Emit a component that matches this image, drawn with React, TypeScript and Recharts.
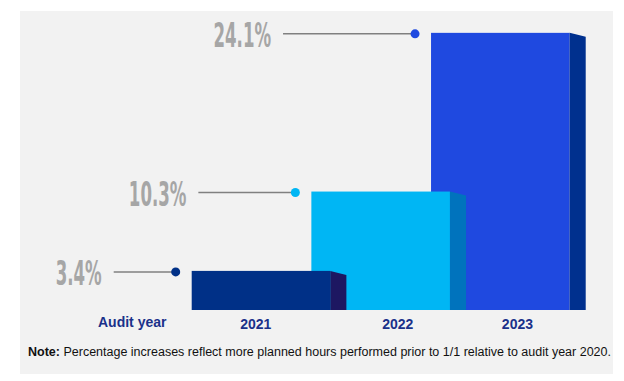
import { BarChart, Bar, XAxis, YAxis } from 'recharts';

const years = ['2021', '2022', '2023'];
const increases = [3.4, 10.3, 24.1];
const frontColors = ['#003087', '#00b6f4', '#1f49e0'];
const sideColors = ['#1d1761', '#0073bd', '#00308e'];

// drawn right-to-left so each bar's side face sits on top of its right neighbour
const data = years
  .map((year, i) => ({ year, value: increases[i], idx: i }))
  .reverse();

const FRONT = 1.155; // front face width relative to the band
const SIDE = 0.134; // side face width relative to the band

function Block(props: any) {
  const { x, y, width, height, payload } = props;
  const i = payload.idx;
  const fw = width * FRONT;
  const sw = width * SIDE;
  const x0 = x + width / 2 - fw / 2;
  const x1 = x0 + fw;
  const base = y + height;
  const slant = 4;
  const dotX = x0 - 16;
  const textRight = dotX - (74 + 35 * i);
  const label = `${payload.value}%`;
  return (
    <g>
      <line x1={textRight + 12} y1={y + 1} x2={dotX} y2={y + 1} stroke="#808080" strokeWidth={1.5} />
      <circle cx={dotX} cy={y + 1} r={4.5} fill={frontColors[i]} />
      <text
        x={textRight}
        y={y + 14}
        textAnchor="end"
        fontFamily="'Liberation Sans Narrow', 'DejaVu Sans Condensed', sans-serif"
        fontWeight="bold"
        fontSize={33}
        fill="#a6a6a6"
        textLength={label.length * 11.5}
        lengthAdjust="spacingAndGlyphs"
      >
        {label}
      </text>
      <rect x={x0} y={y} width={fw} height={height} fill={frontColors[i]} />
      <polygon
        points={`${x1},${y} ${x1 + sw},${y + slant} ${x1 + sw},${base} ${x1},${base}`}
        fill={sideColors[i]}
      />
    </g>
  );
}

function YearTick(props: any) {
  const { x, y, payload } = props;
  const first = payload.value === years[0];
  // centre the year under the part of the front face that stays visible
  const band = 119.5;
  const shift = first ? -5 : (band * (FRONT + SIDE) - band) / 2;
  return (
    <text
      x={x + shift}
      y={y + 11}
      textAnchor="middle"
      fontFamily="'Liberation Sans', Arial, sans-serif"
      fontWeight="bold"
      fontSize={14}
      fill="#1a318a"
    >
      {payload.value}
    </text>
  );
}

export default function App() {
  return (
    <div style={{ position: 'absolute', left: 0, top: 0, width: 624, height: 381, background: '#fff' }}>
      <div style={{ position: 'absolute', left: 20, top: 11, width: 593, height: 363, background: '#f2f2f2' }} />
      <div style={{ position: 'absolute', left: 0, top: 0 }}>
        <BarChart
          width={624}
          height={381}
          data={data}
          margin={{ top: 11, right: 64, left: 201, bottom: 0 }}
          barCategoryGap={0}
        >
          <XAxis
            dataKey="year"
            reversed
            axisLine={false}
            tickLine={false}
            tick={<YearTick />}
            height={71}
            interval={0}
          />
          <YAxis hide domain={[0, 26]} />
          <Bar dataKey="value" shape={<Block />} isAnimationActive={false} />
        </BarChart>
      </div>
      <div
        style={{
          position: 'absolute',
          left: 98,
          top: 314,
          fontFamily: "'Liberation Sans', Arial, sans-serif",
          fontWeight: 'bold',
          fontSize: 14,
          color: '#1a318a',
        }}
      >
        Audit year
      </div>
      <div
        style={{
          position: 'absolute',
          left: 28,
          top: 345,
          fontFamily: "'Liberation Sans', Arial, sans-serif",
          fontSize: 12.5,
          color: '#111',
          whiteSpace: 'nowrap',
        }}
      >
        <b>Note:</b> Percentage increases reflect more planned hours performed prior to 1/1 relative to audit year 2020.
      </div>
    </div>
  );
}
